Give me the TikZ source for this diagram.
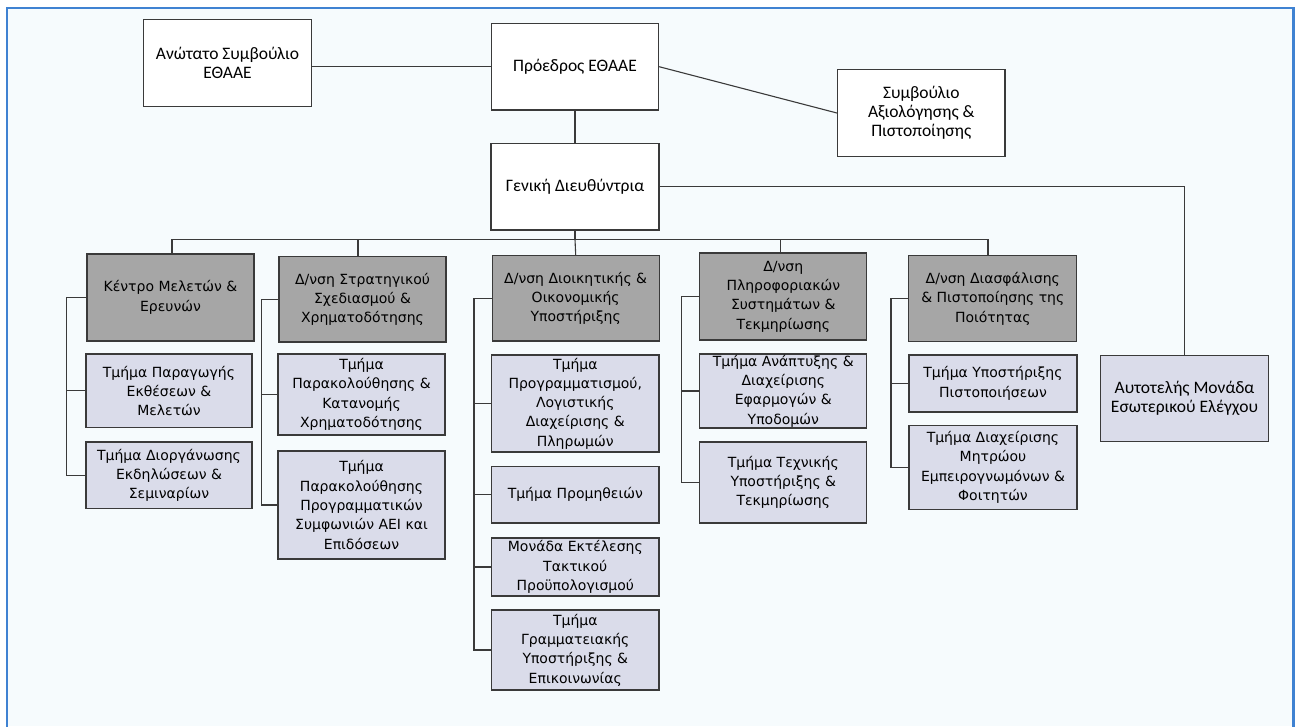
\documentclass[tikz,border=0pt]{standalone}
\usepackage{fontspec}
\setmainfont{DejaVu Sans}
\newfontfamily\calfont{Carlito}
\definecolor{headgray}{HTML}{A6A6A6}
\definecolor{subfill}{HTML}{DADCEA}
\definecolor{bgfill}{HTML}{F6FBFD}
\definecolor{frameblue}{HTML}{3F82D2}
\definecolor{linegray}{HTML}{3A3A3A}
\tikzset{
  base/.style={draw=linegray, line width=1.3pt, align=center, inner sep=0pt,
    font=\fontsize{14}{19.3}\selectfont},
  topbox/.style={base, fill=white, font=\calfont\fontsize{17.5}{19}\selectfont},
  headbox/.style={base, fill=headgray},
  subbox/.style={base, fill=subfill},
  autobox/.style={base, fill=subfill, font=\calfont\fontsize{17.5}{19}\selectfont},
  conn/.style={draw=linegray, line width=1.1pt},
}
\begin{document}
\begin{tikzpicture}[x=1pt,y=-1pt]
\useasboundingbox (0,0) rectangle (1299,726);
\fill[white] (0,0) rectangle (1299,726);
\fill[bgfill] (7,8) rectangle (1293.5,726);
\draw[frameblue, line width=2.5pt] (7,727) -- (7,8) -- (1293.5,8) -- (1293.5,727);

% top level
\node[topbox, minimum width=168pt, minimum height=87pt] (anot) at (227.5,63) {Ανώτατο Συμβούλιο\\ΕΘΑΑΕ};
\node[topbox, minimum width=167pt, minimum height=86.5pt] (proe) at (575,66.7) {Πρόεδρος ΕΘΑΑΕ};
\node[topbox, minimum width=167.5pt, minimum height=87pt] (symv) at (921.3,113) {Συμβούλιο\\Αξιολόγησης \&\\Πιστοποίησης};
\node[topbox, minimum width=168pt, minimum height=86.7pt] (gen) at (575,186.7) {Γενική Διευθύντρια};
\node[autobox, minimum width=167.6pt, minimum height=86pt] (auto) at (1184.5,398.7) {Αυτοτελής Μονάδα\\Εσωτερικού Ελέγχου};

% heads
\node[headbox, minimum width=167pt, minimum height=87pt] (h1) at (170.5,297.5) {Κέντρο Μελετών \&\\Ερευνών};
\node[headbox, minimum width=167pt, minimum height=85.5pt] (h2) at (362.5,299.3) {Δ/νση Στρατηγικού\\Σχεδιασμού \&\\Χρηματοδότησης};
\node[headbox, minimum width=167pt, minimum height=85.5pt] (h3) at (575.7,298.3) {Δ/νση Διοικητικής \&\\Οικονομικής\\Υποστήριξης};
\node[headbox, minimum width=167pt, minimum height=87pt] (h4) at (783.3,296.5) {Δ/νση\\Πληροφοριακών\\Συστημάτων \&\\Τεκμηρίωσης};
\node[headbox, minimum width=168pt, minimum height=86pt] (h5) at (992.8,298.7) {Δ/νση Διασφάλισης\\\& Πιστοποίησης της\\Ποιότητας};

% column 1
\node[subbox, minimum width=166pt, minimum height=73.7pt] (c11) at (169,390.8) {Τμήμα Παραγωγής\\Εκθέσεων \&\\Μελετών};
\node[subbox, minimum width=166pt, minimum height=66.7pt] (c12) at (169,475.3) {Τμήμα Διοργάνωσης\\Εκδηλώσεων \&\\Σεμιναρίων};
% column 2
\node[subbox, minimum width=167pt, minimum height=81pt] (c21) at (361.5,394.5) {Τμήμα\\Παρακολούθησης \&\\Κατανομής\\Χρηματοδότησης};
\node[subbox, minimum width=167pt, minimum height=108pt] (c22) at (361.5,505) {Τμήμα\\Παρακολούθησης\\Προγραμματικών\\Συμφωνιών ΑΕΙ και\\Επιδόσεων};
% column 3
\node[subbox, minimum width=167.3pt, minimum height=97pt] (c31) at (575.3,403.5) {Τμήμα\\Προγραμματισμού,\\Λογιστικής\\Διαχείρισης \&\\Πληρωμών};
\node[subbox, minimum width=167.3pt, minimum height=56.3pt] (c32) at (575.3,494.8) {Τμήμα Προμηθειών};
\node[subbox, minimum width=167.3pt, minimum height=58pt] (c33) at (575.3,567) {Μονάδα Εκτέλεσης\\Τακτικού\\Προϋπολογισμού};
\node[subbox, minimum width=167.3pt, minimum height=80pt] (c34) at (575.3,650) {Τμήμα\\Γραμματειακής\\Υποστήριξης \&\\Επικοινωνίας};
% column 4
\node[subbox, minimum width=167pt, minimum height=74pt] (c41) at (783.3,391) {Τμήμα Ανάπτυξης \&\\Διαχείρισης\\Εφαρμογών \&\\Υποδομών};
\node[subbox, minimum width=167pt, minimum height=81pt] (c42) at (783.3,482.5) {Τμήμα Τεχνικής\\Υποστήριξης \&\\Τεκμηρίωσης};
% column 5
\node[subbox, minimum width=168pt, minimum height=57pt] (c51) at (993,383.5) {Τμήμα Υποστήριξης\\Πιστοποιήσεων};
\node[subbox, minimum width=168pt, minimum height=83.6pt] (c52) at (993,467.5) {Τμήμα Διαχείρισης\\Μητρώου\\Εμπειρογνωμόνων \&\\Φοιτητών};

% top connectors
\draw[conn] (anot.east |- proe.west) -- (proe.west);
\draw[conn] (proe.east) -- (symv.west);
\draw[conn] (proe.south) -- (gen.north);
\draw[conn] (gen.east) -| (auto.north);

% bus
\coordinate (bus) at (575,239.3);
\coordinate (d1) at (172,239.3);
\coordinate (d2) at (358,239.3);
\coordinate (d4) at (780.7,239.3);
\coordinate (d5) at (988,239.3);
\draw[conn] (gen.south) -- (bus);
\draw[conn] (d1) -- (d5);
\draw[conn] (d1) -- (d1 |- h1.north);
\draw[conn] (d2) -- (d2 |- h2.north);
\draw[conn] (bus) -- (h3.north);
\draw[conn] (d4) -- (d4 |- h4.north);
\draw[conn] (d5) -- (d5 |- h5.north);

% brackets
\coordinate (b1) at (66.7,0);
\coordinate (b2) at (261.7,0);
\coordinate (b3) at (474,0);
\coordinate (b4) at (681.7,0);
\coordinate (b5) at (891,0);
\draw[conn] (h1.west) -| (b1 |- c12.west) -- (c12.west);
\draw[conn] (b1 |- c11.west) -- (c11.west);
\draw[conn] (h2.west) -| (b2 |- c22.west) -- (c22.west);
\draw[conn] (b2 |- c21.west) -- (c21.west);
\draw[conn] (h3.west) -| (b3 |- c34.west) -- (c34.west);
\draw[conn] (b3 |- c31.west) -- (c31.west);
\draw[conn] (b3 |- c32.west) -- (c32.west);
\draw[conn] (b3 |- c33.west) -- (c33.west);
\draw[conn] (h4.west) -| (b4 |- c42.west) -- (c42.west);
\draw[conn] (b4 |- c41.west) -- (c41.west);
\draw[conn] (h5.west) -| (b5 |- c52.west) -- (c52.west);
\draw[conn] (b5 |- c51.west) -- (c51.west);
\end{tikzpicture}
\end{document}
